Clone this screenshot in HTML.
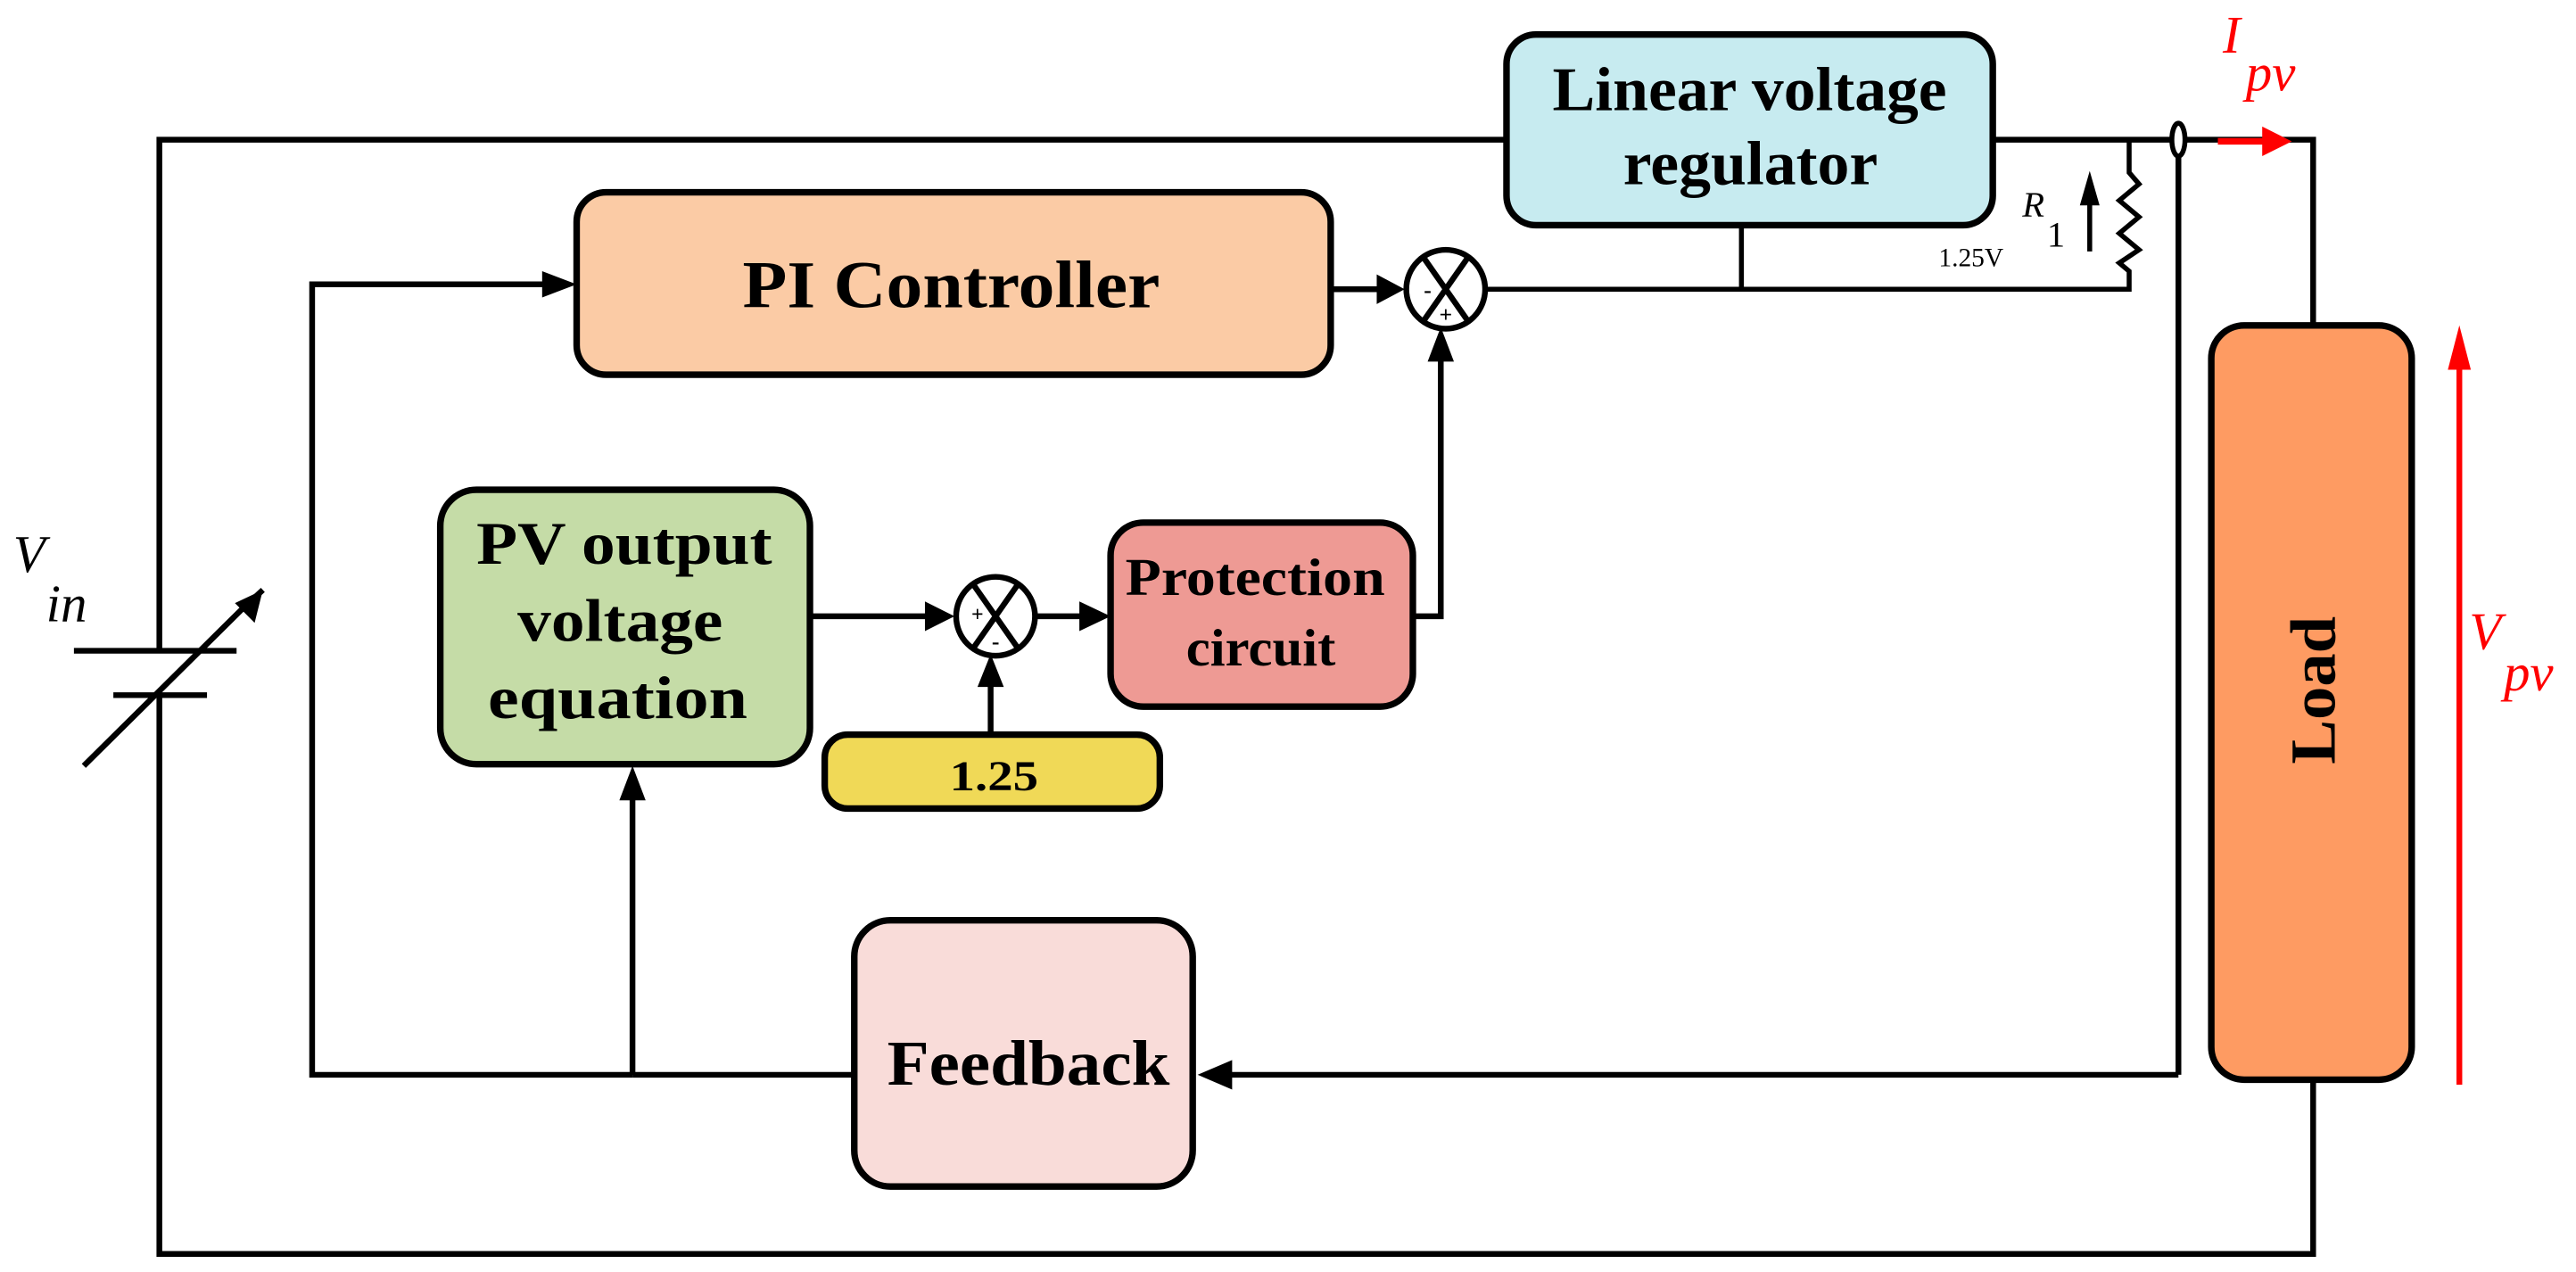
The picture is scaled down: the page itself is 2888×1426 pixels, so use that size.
<!DOCTYPE html>
<html><head><meta charset="utf-8"><style>html,body{margin:0;padding:0;background:#fff}svg{display:block}</style></head><body>
<svg width="2888" height="1426" viewBox="0 0 1568 774" preserveAspectRatio="none" xmlns="http://www.w3.org/2000/svg" font-family="'Liberation Serif', serif">
<g stroke="#000" stroke-width="3.5" fill="none">
<polyline points="917,85 97,85 97,396"/>
<polyline points="97,423 97,763 1408,763 1408,657"/>
<polyline points="1213,85 1408,85 1408,198"/>
<line x1="45" y1="396" x2="144" y2="396"/>
<line x1="69" y1="423" x2="126" y2="423"/>
<line x1="51" y1="466" x2="150" y2="368"/>
<line x1="1326" y1="95" x2="1326" y2="654"/>
<polyline points="1326,654 745,654"/>
<polyline stroke-width="3" points="1296,85 1296,105 1302,112 1290,122 1302,132 1290,142 1302,152 1290,160 1296,165 1296,176 900,176"/>
<line x1="1060" y1="137" x2="1060" y2="176" stroke-width="3"/>
<polyline points="385,654 190,654 190,173 333,173"/>
<line x1="520" y1="654" x2="385" y2="654"/>
<line x1="385" y1="654" x2="385" y2="483"/>
<line x1="810" y1="176" x2="840" y2="176"/>
<polyline points="860,375 877,375 877,218"/>
<line x1="493" y1="375" x2="566" y2="375"/>
<line x1="628" y1="375" x2="660" y2="375"/>
<line x1="603" y1="447" x2="603" y2="415"/>
</g>
<g fill="#000">
<path d="M351,173 L330,165 L330,181 z"/>
<path d="M855,176 L838,167 L838,185 z"/>
<path d="M877,199 L869,220 L885,220 z"/>
<path d="M581,375 L563,366 L563,384 z"/>
<path d="M676,375 L657,366 L657,384 z"/>
<path d="M603,398 L595,418 L611,418 z"/>
<path d="M385,466 L377,487 L393,487 z"/>
<path d="M729,654 L750,645 L750,663 z"/>
<path d="M160,359 L143,367 L155,379 z"/>
<path d="M1272,104 L1266,125 L1278,125 z"/>
</g>
<line x1="147" y1="371" x2="160" y2="359" stroke="#000" stroke-width="3.5"/>
<line x1="1272" y1="120" x2="1272" y2="153" stroke="#000" stroke-width="3"/>
<ellipse cx="1326" cy="85" rx="4" ry="10" fill="#fff" stroke="#000" stroke-width="3"/>
<line x1="1350" y1="86" x2="1380" y2="86" stroke="#f00" stroke-width="4"/>
<path d="M1395,86 L1377,77 L1377,95 z" fill="#f00"/>
<line x1="1497" y1="660" x2="1497" y2="215" stroke="#f00" stroke-width="3.5"/>
<path d="M1497,198 L1490,225 L1504,225 z" fill="#f00"/>
<g stroke="#000" stroke-width="4">
<rect x="917" y="21" width="296" height="116" rx="18" fill="#c7ebf0"/>
<rect x="351" y="117" width="459" height="111" rx="18" fill="#fbcba5"/>
<rect x="268" y="298" width="225" height="167" rx="22" fill="#c5dca7"/>
<rect x="676" y="318" width="184" height="112" rx="20" fill="#ee9a94"/>
<rect x="502" y="447" width="204" height="45" rx="14" fill="#f0d957"/>
<rect x="520" y="560" width="206" height="162" rx="22" fill="#f9dcd9"/>
<rect x="1346" y="198" width="122" height="459" rx="20" fill="#fe9b62"/>
</g>
<g stroke="#000" stroke-width="3.5" fill="#fff">
<circle cx="880" cy="176" r="24"/>
<circle cx="606" cy="375" r="24"/>
</g>
<g stroke="#000" stroke-width="3.5">
<line x1="866" y1="156" x2="894" y2="196"/><line x1="894" y1="156" x2="866" y2="196"/>
<line x1="592" y1="355" x2="620" y2="395"/><line x1="620" y1="355" x2="592" y2="395"/>
</g>
<g font-weight="bold" fill="#000" lengthAdjust="spacingAndGlyphs">
<text x="869" y="181" font-size="14" text-anchor="middle">-</text>
<text x="880" y="196" font-size="14" text-anchor="middle">+</text>
<text x="595" y="378" font-size="13" text-anchor="middle">+</text>
<text x="606" y="395" font-size="14" text-anchor="middle">-</text>
<text x="945" y="67" font-size="38" textLength="240" lengthAdjust="spacingAndGlyphs">Linear voltage</text>
<text x="988" y="112" font-size="38" textLength="155" lengthAdjust="spacingAndGlyphs">regulator</text>
<text x="452" y="187" font-size="41" textLength="254" lengthAdjust="spacingAndGlyphs">PI Controller</text>
<text x="290" y="343" font-size="37" textLength="180" lengthAdjust="spacingAndGlyphs">PV output</text>
<text x="315" y="390" font-size="37" textLength="125" lengthAdjust="spacingAndGlyphs">voltage</text>
<text x="297" y="437" font-size="37" textLength="158" lengthAdjust="spacingAndGlyphs">equation</text>
<text x="685" y="362" font-size="32" textLength="158" lengthAdjust="spacingAndGlyphs">Protection</text>
<text x="722" y="405" font-size="32" textLength="91" lengthAdjust="spacingAndGlyphs">circuit</text>
<text x="578" y="481" font-size="26" textLength="54" lengthAdjust="spacingAndGlyphs">1.25</text>
<text x="540" y="660" font-size="39" textLength="172" lengthAdjust="spacingAndGlyphs">Feedback</text>
<text x="0" y="0" font-size="39" textLength="90" lengthAdjust="spacingAndGlyphs" transform="translate(1421,465) rotate(-90)">Load</text>
</g>
<g fill="#000" font-style="italic">
<text x="1231" y="132" font-size="22">R</text>
<text x="8" y="348" font-size="32">V</text>
<text x="28" y="378" font-size="32">in</text>
</g>
<text x="1246" y="150" font-size="22" fill="#000">1</text>
<text x="1180" y="162" font-size="16" fill="#000">1.25V</text>
<g fill="#f00" font-style="italic">
<text x="1353" y="32" font-size="32">I</text>
<text x="1367" y="55" font-size="32">pv</text>
<text x="1503" y="395" font-size="32">V</text>
<text x="1524" y="420" font-size="32">pv</text>
</g>
</svg>
</body></html>
